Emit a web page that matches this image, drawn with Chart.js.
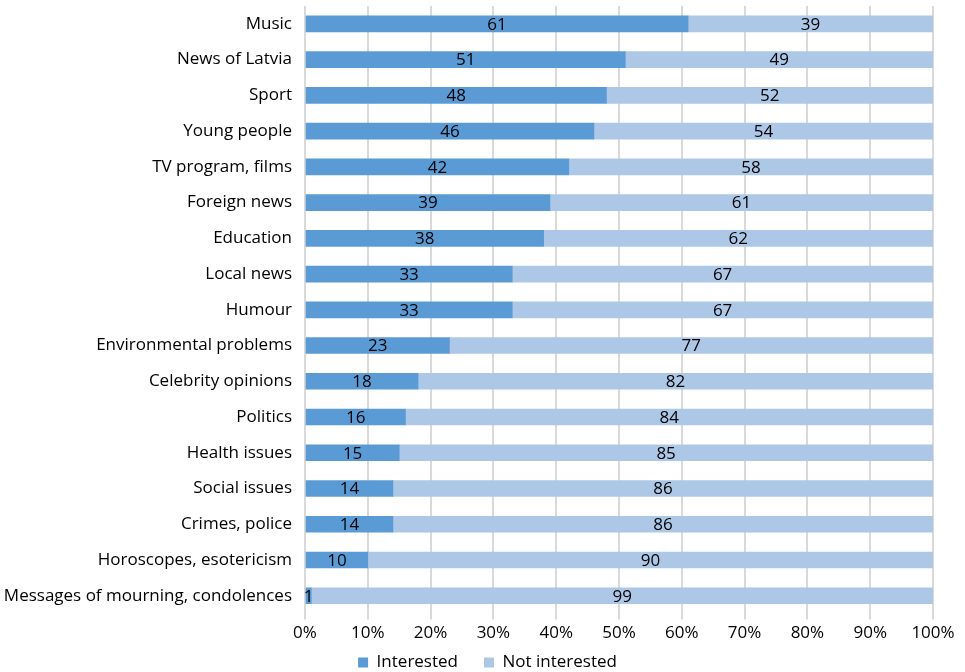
<!DOCTYPE html>
<html>
<head>
<meta charset="utf-8">
<script src="https://cdn.jsdelivr.net/npm/chart.js@4"></script>
<style>
  body { margin: 0; background: #fff; }
  #wrap { width: 965px; height: 672px; }
</style>
</head>
<body>
<div id="wrap"><canvas id="myChart"></canvas></div>
<script>
const topics = [
    'Music', 'News of Latvia', 'Sport', 'Young people', 'TV program, films',
    'Foreign news', 'Education', 'Local news', 'Humour', 'Environmental problems',
    'Celebrity opinions', 'Politics', 'Health issues', 'Social issues',
    'Crimes, police', 'Horoscopes, esotericism', 'Messages of mourning, condolences'
];
const interested = [61, 51, 48, 46, 42, 39, 38, 33, 33, 23, 18, 16, 15, 14, 14, 10, 1];
const notInterested = [39, 49, 52, 54, 58, 61, 62, 67, 67, 77, 82, 84, 85, 86, 86, 90, 99];

const fontFamily = "'Open Sans', 'Noto Sans', sans-serif";

// value labels in the middle of each bar segment + legend placement tweak
const barLabels = {
    id: 'barLabels',
    beforeUpdate(chart) {
        // legend takes little room in the layout...
        const lg = chart.legend;
        if (lg && !lg._short) {
            const fit = lg.fit;
            lg.fit = function() { fit.call(this); this.height = 26; };
            lg._short = true;
        }
    },
    afterLayout(chart) {
        // ...but draws in a taller box so its big padding still fits
        const lg = chart.legend;
        lg.top = lg.bottom - 44;
        lg.height = 44;
        lg.left += 42;
        lg.width = lg.right - lg.left;
    },
    afterDatasetsDraw(chart) {
        const ctx = chart.ctx;
        ctx.save();
        ctx.fillStyle = '#000';
        ctx.font = '17px ' + fontFamily;
        ctx.textAlign = 'center';
        ctx.textBaseline = 'middle';
        chart.data.datasets.forEach((ds, i) => {
            chart.getDatasetMeta(i).data.forEach((bar, j) => {
                const cx = (bar.x + bar.base) / 2;
                ctx.fillText(ds.data[j], cx, bar.y + 1);
            });
        });
        ctx.restore();
    }
};

const ctx = document.querySelector('#myChart').getContext('2d');
const myChart = new Chart(ctx, {
    type: 'bar',
    data: {
        labels: topics,
        datasets: [{
            label: 'Interested',
            data: interested,
            backgroundColor: '#5b9bd5',
            barThickness: 16
        }, {
            label: 'Not interested',
            data: notInterested,
            backgroundColor: '#adc7e6',
            barThickness: 16
        }]
    },
    options: {
        indexAxis: 'y',
        responsive: true,
        maintainAspectRatio: false,
        animation: false,
        layout: { padding: { top: 6, right: 32, bottom: 0, left: 0 } },
        scales: {
            x: {
                stacked: true,
                min: 0,
                max: 100,
                ticks: {
                    stepSize: 10,
                    color: '#000',
                    font: { family: fontFamily, size: 17 },
                    callback: v => v + '%',
                    maxRotation: 0,
                    padding: 3
                },
                grid: { color: '#d9d9d9', lineWidth: 2, drawTicks: true, tickLength: 6 },
                border: { display: false },
                afterFit(scale) {
                    scale.paddingRight = 0;
                    scale.paddingLeft = 0;
                }
            },
            y: {
                stacked: true,
                ticks: {
                    color: '#000',
                    font: { family: fontFamily, size: 17 },
                    padding: 5
                },
                grid: { display: false },
                border: { display: false },
                afterFit(scale) {
                    scale.width = 305;
                    scale.paddingTop = 0;
                    scale.paddingBottom = 0;
                }
            }
        },
        plugins: {
            legend: {
                position: 'bottom',
                labels: {
                    color: '#000',
                    font: { family: fontFamily, size: 17 },
                    boxWidth: 10,
                    boxHeight: 10,
                    padding: 26
                }
            },
            tooltip: { enabled: false }
        }
    },
    plugins: [barLabels]
});
</script>
</body>
</html>
